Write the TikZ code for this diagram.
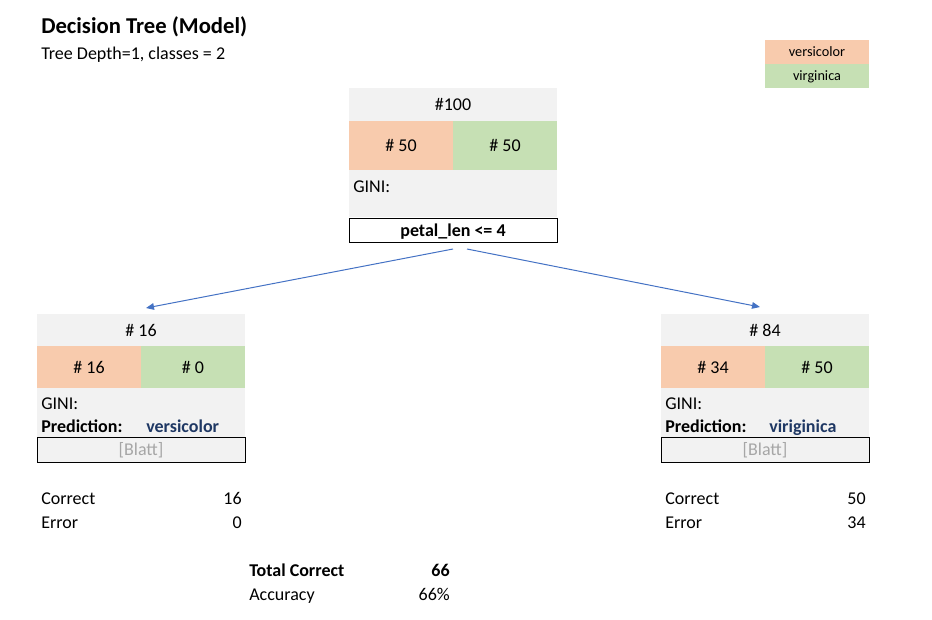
\documentclass[tikz,border=0pt]{standalone}
\usepackage{fontspec}
\setmainfont{Carlito}
\usepackage{xcolor}
\usetikzlibrary{arrows.meta,calc}
\definecolor{vercol}{HTML}{F8CBAD}
\definecolor{vircol}{HTML}{C6E0B4}
\definecolor{cellgray}{HTML}{F2F2F2}
\definecolor{predblue}{HTML}{1F3864}
\definecolor{leafgray}{HTML}{A6A6A6}
\definecolor{arrowblue}{HTML}{4472C4}

\begin{document}
\begin{tikzpicture}[x=0.75pt,y=0.75pt,yscale=-1,xscale=1,
  font=\fontsize{13.5}{16}\selectfont,
  txt/.style={inner sep=0.75pt},
  small/.style={font=\fontsize{10.7}{13}\selectfont},
  link/.style={draw=arrowblue,line width=0.75pt,-{Triangle[length=6pt,width=5pt]}}]
\useasboundingbox (0,0) rectangle (932,619);

% title
\draw (40,33) node [anchor=base west][txt] (title) {\fontsize{17}{20}\selectfont\bfseries Decision Tree (Model)};
\draw (40,59.5) node [anchor=base west][txt] (subtitle) {Tree Depth=1, classes = 2};

% legend
\fill[vercol] (765,40) rectangle (869,64);
\fill[vircol] (765,64) rectangle (869,88);
\draw (817,56.5) node [anchor=base][txt][small] (legVer) {versicolor};
\draw (817,80.5) node [anchor=base][txt][small] (legVir) {virginica};

% root node
\fill[cellgray] (349,88) rectangle (557,217);
\fill[vercol] (349,121) rectangle (453,170);
\fill[vircol] (453,121) rectangle (557,170);
\draw[line width=0.75pt] (349,218) rectangle (557,242);

\draw (453,110.5) node [anchor=base][txt] (rootHead) {\#100};
\draw (401,151.5) node [anchor=base][txt] (rootVer) {\# 50};
\draw (505,151.5) node [anchor=base][txt] (rootVir) {\# 50};
\draw (352,192) node [anchor=base west][txt] (rootGini) {GINI:};
\draw (453,236) node [anchor=base][txt] (split) {\bfseries petal\_len <= 4};

% left leaf
\fill[cellgray] (37,314) rectangle (245,462);
\fill[vercol] (37,346) rectangle (141,388);
\fill[vircol] (141,346) rectangle (245,388);
\draw[line width=0.75pt] (37,437) rectangle (245,462);

\draw (141,336) node [anchor=base][txt] (headL) {\# 16};
\draw (89,373) node [anchor=base][txt] (verL) {\# 16};
\draw (193,373) node [anchor=base][txt] (virL) {\# 0};
\draw (40,409) node [anchor=base west][txt] (giniL) {GINI:};
\draw (40,432) node [anchor=base west][txt] (predL) {\bfseries Prediction:};
\draw (145,432) node [anchor=base west][txt] (classL) {\bfseries\color{predblue}versicolor};
\draw (141,455.5) node [anchor=base][txt] (blattL) {\color{leafgray}[Blatt]};

% right leaf
\fill[cellgray] (661,314) rectangle (869,462);
\fill[vercol] (661,346) rectangle (765,388);
\fill[vircol] (765,346) rectangle (869,388);
\draw[line width=0.75pt] (661,437) rectangle (869,462);

\draw (765,336) node [anchor=base][txt] (headR) {\# 84};
\draw (713,373) node [anchor=base][txt] (verR) {\# 34};
\draw (817,373) node [anchor=base][txt] (virR) {\# 50};
\draw (664,409) node [anchor=base west][txt] (giniR) {GINI:};
\draw (664,432) node [anchor=base west][txt] (predR) {\bfseries Prediction:};
\draw (768,432) node [anchor=base west][txt] (classR) {\bfseries\color{predblue}viriginica};
\draw (765,455.5) node [anchor=base][txt] (blattR) {\color{leafgray}[Blatt]};

% arrows
\draw[link] ($(split.base)+(0,13)$) -- ($(headL.base)+(5,-28)$);
\draw[link] ($(split.base)+(14,13)$) -- ($(headR.base)+(-5,-29)$);

% counts
\draw (40,504) node [anchor=base west][txt] (corL) {Correct};
\draw (243,504) node [anchor=base east][txt] (corLval) {16};
\draw (40,528) node [anchor=base west][txt] (errL) {Error};
\draw (243,528) node [anchor=base east][txt] (errLval) {0};

\draw (664,504) node [anchor=base west][txt] (corR) {Correct};
\draw (867,504) node [anchor=base east][txt] (corRval) {50};
\draw (664,528) node [anchor=base west][txt] (errR) {Error};
\draw (867,528) node [anchor=base east][txt] (errRval) {34};

\draw (248,576) node [anchor=base west][txt] (total) {\bfseries Total Correct};
\draw (451,576) node [anchor=base east][txt] (totalval) {\bfseries 66};
\draw (248,600) node [anchor=base west][txt] (acc) {Accuracy};
\draw (451,600) node [anchor=base east][txt] (accval) {66\%};

\end{tikzpicture}
\end{document}
